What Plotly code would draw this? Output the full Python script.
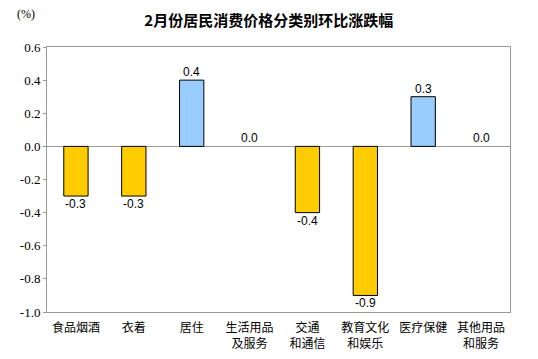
import plotly.graph_objects as go

categories = ["食品烟酒", "衣着", "居住", "生活用品<br>及服务", "交通<br>和通信", "教育文化<br>和娱乐", "医疗保健", "其他用品<br>和服务"]
values = [-0.3, -0.3, 0.4, 0.0, -0.4, -0.9, 0.3, 0.0]
y_ticks = [0.6, 0.4, 0.2, 0.0, -0.2, -0.4, -0.6, -0.8, -1.0]

colors = ["#FFCC00" if v < 0 else "#99CCFF" for v in values]
line_widths = [0 if v == 0 else 1 for v in values]

fig = go.Figure(go.Bar(
    x=list(range(len(categories))), y=values,
    marker=dict(color=colors, line=dict(color="#000000", width=line_widths)),
    width=0.42, hoverinfo="skip",
))

for i, v in enumerate(values):
    fig.add_annotation(x=i, y=v, text=f"{v:.1f}", showarrow=False,
                       yanchor="top" if v < 0 else "bottom",
                       yshift=1 if v < 0 else -1,
                       font=dict(family="Liberation Sans", size=12, color="#000000"))

fig.update_layout(
    width=530, height=351,
    margin=dict(l=39, r=28, t=39, b=47),
    paper_bgcolor="white", plot_bgcolor="white",
    showlegend=False,
    title=dict(text="<b>2月份居民消费价格分类别环比涨跌幅</b>", x=0.492, xanchor="center",
               y=0.965, yanchor="middle",
               font=dict(family="Noto Sans CJK SC", size=15, color="#000000")),
    xaxis=dict(tickmode="array", tickvals=list(range(len(categories))), ticktext=categories,
               range=[-0.5, len(categories) - 0.5], showgrid=False, zeroline=False,
               showline=True, linecolor="#999999", linewidth=1, mirror=True, ticks="",
               automargin=False, ticklabelstandoff=5,
               tickfont=dict(family="Noto Sans CJK SC", size=12, color="#000000")),
    yaxis=dict(range=[-1.0, 0.6], tickvals=y_ticks, ticktext=[f"{t:.1f}" for t in y_ticks],
               showgrid=False, zeroline=True, zerolinecolor="#999999", zerolinewidth=1,
               showline=True, linecolor="#999999", linewidth=1, mirror=True,
               ticks="outside", ticklen=3, tickcolor="#999999", automargin=False,
               tickfont=dict(family="Liberation Serif, DejaVu Serif, serif", size=13, color="#000000")),
)
fig.add_annotation(xref="paper", yref="paper", x=-0.045, y=1.125, text="(%)", showarrow=False,
                   xanchor="center", yanchor="middle",
                   font=dict(family="Liberation Serif, DejaVu Serif, serif", size=12, color="#000000"))

fig.write_html("out.html")
